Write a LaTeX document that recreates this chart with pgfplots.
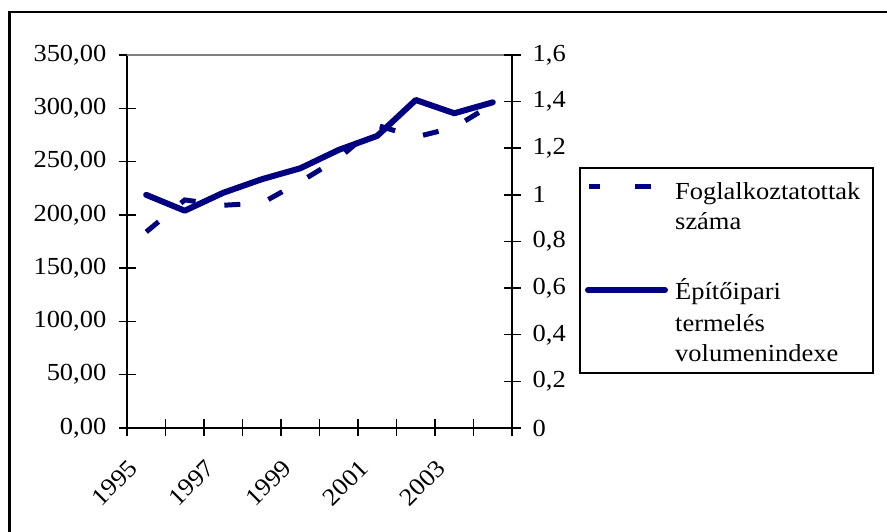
\documentclass[border=0pt]{standalone}
\usepackage{fontspec}
\setmainfont{Liberation Serif}[FakeStretch=1.08]
\usepackage{pgfplots}
\pgfplotsset{compat=1.18}
\definecolor{navy}{HTML}{000080}
\newcommand{\chartfont}{\fontsize{24.5bp}{30bp}\selectfont}

\begin{document}
\begin{tikzpicture}[x=1bp,y=1bp,font=\chartfont]
\clip (0,0) rectangle (887,532);
\draw[line width=2.5bp] (9.5,520) rectangle (900,-20);

\begin{axis}[
  at={(127bp,104bp)}, anchor=south west,
  width=385bp, height=373bp, scale only axis,
  xmin=-0.5, xmax=9.5, ymin=0, ymax=350,
  axis x line*=bottom, axis y line*=left,
  axis line style={-, line width=1.5bp, black},
  xtick={-0.5,0.5,1.5,2.5,3.5,4.5,5.5,6.5,7.5,8.5,9.5},
  xticklabels={},
  extra x ticks={0,2,4,6,8},
  extra x tick labels={1995,1997,1999,2001,2003},
  extra x tick style={major tick length=0pt,
     tick label style={xshift=-13bp, yshift=-36bp, rotate=45, anchor=east, inner sep=0pt}},
  ytick={0,50,100,150,200,250,300,350},
  tick align=center, major tick length=17bp,
  tick style={line width=1.5bp, black},
  tick label style={font=\chartfont},
  /pgf/number format/.cd, fixed, fixed zerofill, precision=2, use comma, 1000 sep={}, assume math mode=true,
  /pgfplots/.cd,
  yticklabel style={anchor=east, inner sep=0pt, xshift=-12bp},
  clip=false,
]
\draw[line width=1.5bp, gray] (axis cs:-0.5,350) -- (axis cs:9.5,350);
\addplot[navy, line width=5bp, dash pattern=on 16bp off 29bp] coordinates {
(0,184) (1,214) (2,209) (3,211) (4,231) (5,253) (6,284) (7,273) (8,282) (9,304)
};
\end{axis}

\begin{axis}[
  at={(127bp,104bp)}, anchor=south west,
  width=385bp, height=373bp, scale only axis,
  xmin=-0.5, xmax=9.5, ymin=0, ymax=1.6,
  axis x line=none, axis y line*=right,
  axis line style={-, line width=1.5bp, black},
  ytick={0,0.2,0.4,0.6,0.8,1,1.2,1.4,1.6},
  tick align=center, major tick length=17bp,
  tick style={line width=1.5bp, black},
  tick label style={font=\chartfont},
  /pgf/number format/.cd, fixed, precision=1, use comma, assume math mode=true,
  /pgfplots/.cd,
  yticklabel style={anchor=west, inner sep=0pt, xshift=12bp},
  clip=false,
]
\addplot[navy, line width=6bp, line cap=round, line join=round] coordinates {
(0,1.000) (1,0.932) (2,1.009) (3,1.067) (4,1.114) (5,1.193) (6,1.253) (7,1.407) (8,1.350) (9,1.397)
};
\end{axis}

% legend
\draw[line width=2bp] (580,364) rectangle (873,159);
\draw[navy, line width=5bp] (589,345) -- (600,345);
\draw[navy, line width=5bp] (635,345) -- (651,345);
\node[anchor=base west, inner sep=0pt] at (675,332) {Foglalkoztatottak};
\node[anchor=base west, inner sep=0pt] at (675,302) {száma};
\draw[navy, line width=6bp, line cap=round] (588,242) -- (665,242);
\node[anchor=base west, inner sep=0pt] at (675,232) {Építőipari};
\node[anchor=base west, inner sep=0pt] at (675,200) {termelés};
\node[anchor=base west, inner sep=0pt] at (675,170) {volumenindexe};
\end{tikzpicture}
\end{document}
